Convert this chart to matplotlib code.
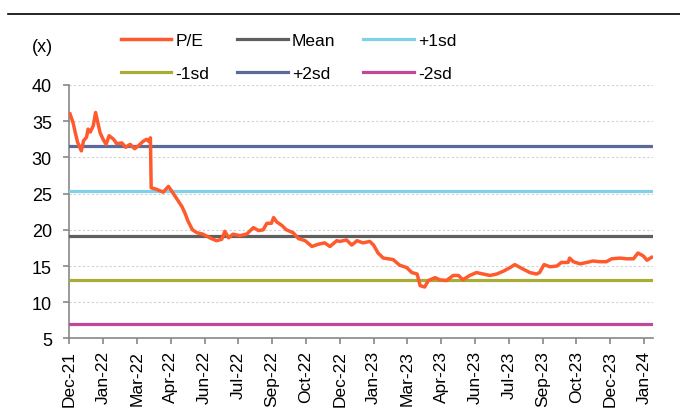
import matplotlib.pyplot as plt
from matplotlib.font_manager import findfont, FontProperties

# x = days since 15-Dec-2021
pe_day = [1, 5, 8, 11, 16, 19, 23, 25, 28, 32, 35, 38, 41, 45, 49, 53, 59, 63, 70, 75,
          81, 87, 92, 98, 103, 106, 108, 109, 116, 125, 132, 136, 143, 150, 154, 158, 164,
          170, 178, 187, 196, 203, 207, 212, 218, 227, 236, 245, 252, 258, 263, 269, 272,
          276, 283, 289, 298, 305, 314, 323, 331, 340, 347, 356, 360, 369, 376, 383, 391,
          400, 405, 411, 418, 431, 440, 449, 456, 463, 467, 473, 478, 487, 493, 502, 511,
          518, 524, 533, 542, 551, 560, 569, 578, 587, 593, 602, 613, 622, 626, 632, 640,
          649, 655, 664, 666, 671, 680, 689, 697, 706, 715, 722, 733, 742, 751, 757, 764,
          769, 775]
pe_val = [36.0, 34.8, 33.4, 32.1, 30.9, 32.3, 32.8, 33.9, 33.5, 34.4, 36.2, 34.8, 33.4,
          32.5, 31.8, 33.0, 32.5, 31.9, 32.0, 31.4, 31.8, 31.2, 31.6, 32.2, 32.5, 32.2, 32.7,
          25.8, 25.6, 25.2, 26.0, 25.4, 24.3, 23.2, 22.3, 21.2, 20.0, 19.6, 19.4, 18.9, 18.5,
          18.7, 19.8, 18.9, 19.4, 19.2, 19.4, 20.3, 19.9, 20.0, 20.9, 20.9, 21.7, 21.1, 20.6,
          20.0, 19.6, 18.8, 18.5, 17.7, 18.0, 18.2, 17.7, 18.5, 18.4, 18.6, 17.9, 18.5, 18.2,
          18.4, 17.9, 16.8, 16.1, 15.9, 15.1, 14.8, 14.1, 13.9, 12.3, 12.1, 13.0, 13.4, 13.1,
          13.0, 13.7, 13.7, 13.1, 13.7, 14.1, 13.9, 13.7, 13.9, 14.3, 14.8, 15.2, 14.7, 14.1,
          13.9, 14.1, 15.2, 14.9, 15.0, 15.5, 15.5, 16.1, 15.6, 15.3, 15.5, 15.7, 15.6, 15.6,
          16.0, 16.1, 16.0, 16.0, 16.8, 16.4, 15.8, 16.2]

band_names = ["Mean", "+1sd", "-1sd", "+2sd", "-2sd"]
band_vals = [19.2, 25.4, 13.05, 31.55, 6.95]
band_colors = ["#5f5f5f", "#7fd0e8", "#a8ad3a", "#5b6a9a", "#c0479a"]

tick_days = [0, 45, 90, 135, 180, 225, 270, 315, 360, 405, 450, 495, 540, 585, 630, 675, 720, 765]
tick_labels = ["Dec-21", "Jan-22", "Mar-22", "Apr-22", "Jun-22", "Jul-22", "Sep-22", "Oct-22",
               "Dec-22", "Jan-23", "Mar-23", "Apr-23", "Jun-23", "Jul-23", "Sep-23", "Oct-23",
               "Dec-23", "Jan-24"]
x_end = 777

plt.rcParams["font.family"] = ["Liberation Sans", "DejaVu Sans"]
narrow = "Liberation Sans Narrow"
try:
    findfont(FontProperties(family=narrow), fallback_to_default=False)
except Exception:
    narrow = "Liberation Sans"

fig = plt.figure(figsize=(6.8, 4.1), dpi=100)
ax = fig.add_axes([0.1019, 0.172, 0.8584, 0.6183])

handles = {}
handles["P/E"], = ax.plot(pe_day, pe_val, color="#ff5a2e", lw=2.5, zorder=5)
for name, v, c in zip(band_names, band_vals, band_colors):
    handles[name], = ax.plot([0, x_end], [v, v], color=c, lw=2.3, zorder=3)

ax.set_xlim(0, x_end)
ax.set_ylim(5, 40)
ax.set_yticks(range(5, 41, 5))
ax.set_xticks(tick_days)
ax.set_xticklabels(tick_labels, rotation=90)
ax.grid(axis="y", color="#d0d0d0", lw=0.8, ls=(0, (2, 2)))
ax.set_axisbelow(True)
for s in ["top", "right"]:
    ax.spines[s].set_visible(False)
for s in ["left", "bottom"]:
    ax.spines[s].set_color("#888888")
    ax.spines[s].set_linewidth(1.2)
ax.tick_params(axis="y", length=4.5, width=1.2, color="#888888", labelsize=13, pad=8)
ax.tick_params(axis="x", length=4.5, width=1.2, color="#888888", labelsize=12.5, pad=4)

fig.text(0.062, 0.883, "(x)", fontsize=13, ha="center", va="center")

# legend fills column by column -> rows read P/E, Mean, +1sd / -1sd, +2sd, -2sd
order = ["P/E", "-1sd", "Mean", "+2sd", "+1sd", "-2sd"]
fig.legend([handles[k] for k in order], order, ncol=3, loc="center left",
           bbox_to_anchor=(0.178, 0.859), frameon=False,
           prop={"family": narrow, "size": 12.5}, handlelength=2.9, handletextpad=0.25,
           columnspacing=1.6, labelspacing=1.0, borderaxespad=0, borderpad=0)

# header rule (title text above it is cropped off in the source)
fig.add_artist(plt.Line2D([8 / 680, 1.0], [1 - 14.7 / 410] * 2, color="black", lw=1.2))

fig.savefig("out.png", dpi=100)
